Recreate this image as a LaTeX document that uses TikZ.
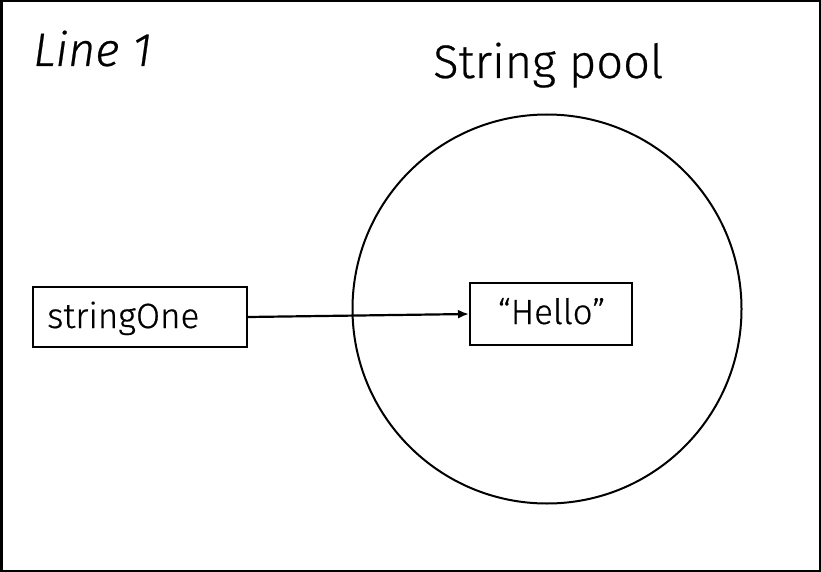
\documentclass[tikz,border=0pt]{standalone}
\usepackage{fontspec}
\setmainfont{Fira Sans}[UprightFont=* Light, ItalicFont=* Light Italic, FakeBold=0.5,
  UprightFeatures={FakeBold=0.5}, ItalicFeatures={FakeBold=0.5}]
\usetikzlibrary{arrows.meta}
\begin{document}
\begin{tikzpicture}[x=1pt,y=-1pt,
  frame/.style={draw=black,line width=2.5pt},
  varbox/.style={draw=black,line width=2pt,minimum height=60pt,inner sep=0pt},
  title/.style={font=\fontsize{47}{54}\selectfont,inner sep=0pt,anchor=base west},
  label/.style={font=\fontsize{35}{40}\selectfont},
  ref/.style={line width=2.2pt,-{Latex[length=11pt,width=9pt]}}]
  \useasboundingbox (0,0) rectangle (821,572);
  \draw[frame] (1.25,1.25) rectangle (819.75,570.75);
  % headings
  \node[title,font=\fontsize{47}{54}\selectfont\itshape] (line) at (33,66) {Line 1};
  \node[title] (pool) at (433,78) {String pool};
  % the pool
  \draw[line width=2pt] (547,309) circle (194.5);
  % variable and string literal
  \node[varbox,minimum width=214pt] (var) at (140,317) {};
  \node[label,anchor=base west,inner sep=0pt] (vartxt) at (47,328) {stringOne};
  \node[varbox,minimum width=162pt,minimum height=62pt] (lit) at (551,314) {};
  \node[label,anchor=base,inner sep=0pt] (littxt) at (551.5,324) {``Hello''};
  \draw[ref] (var.east) -- (lit.west);
\end{tikzpicture}
\end{document}
